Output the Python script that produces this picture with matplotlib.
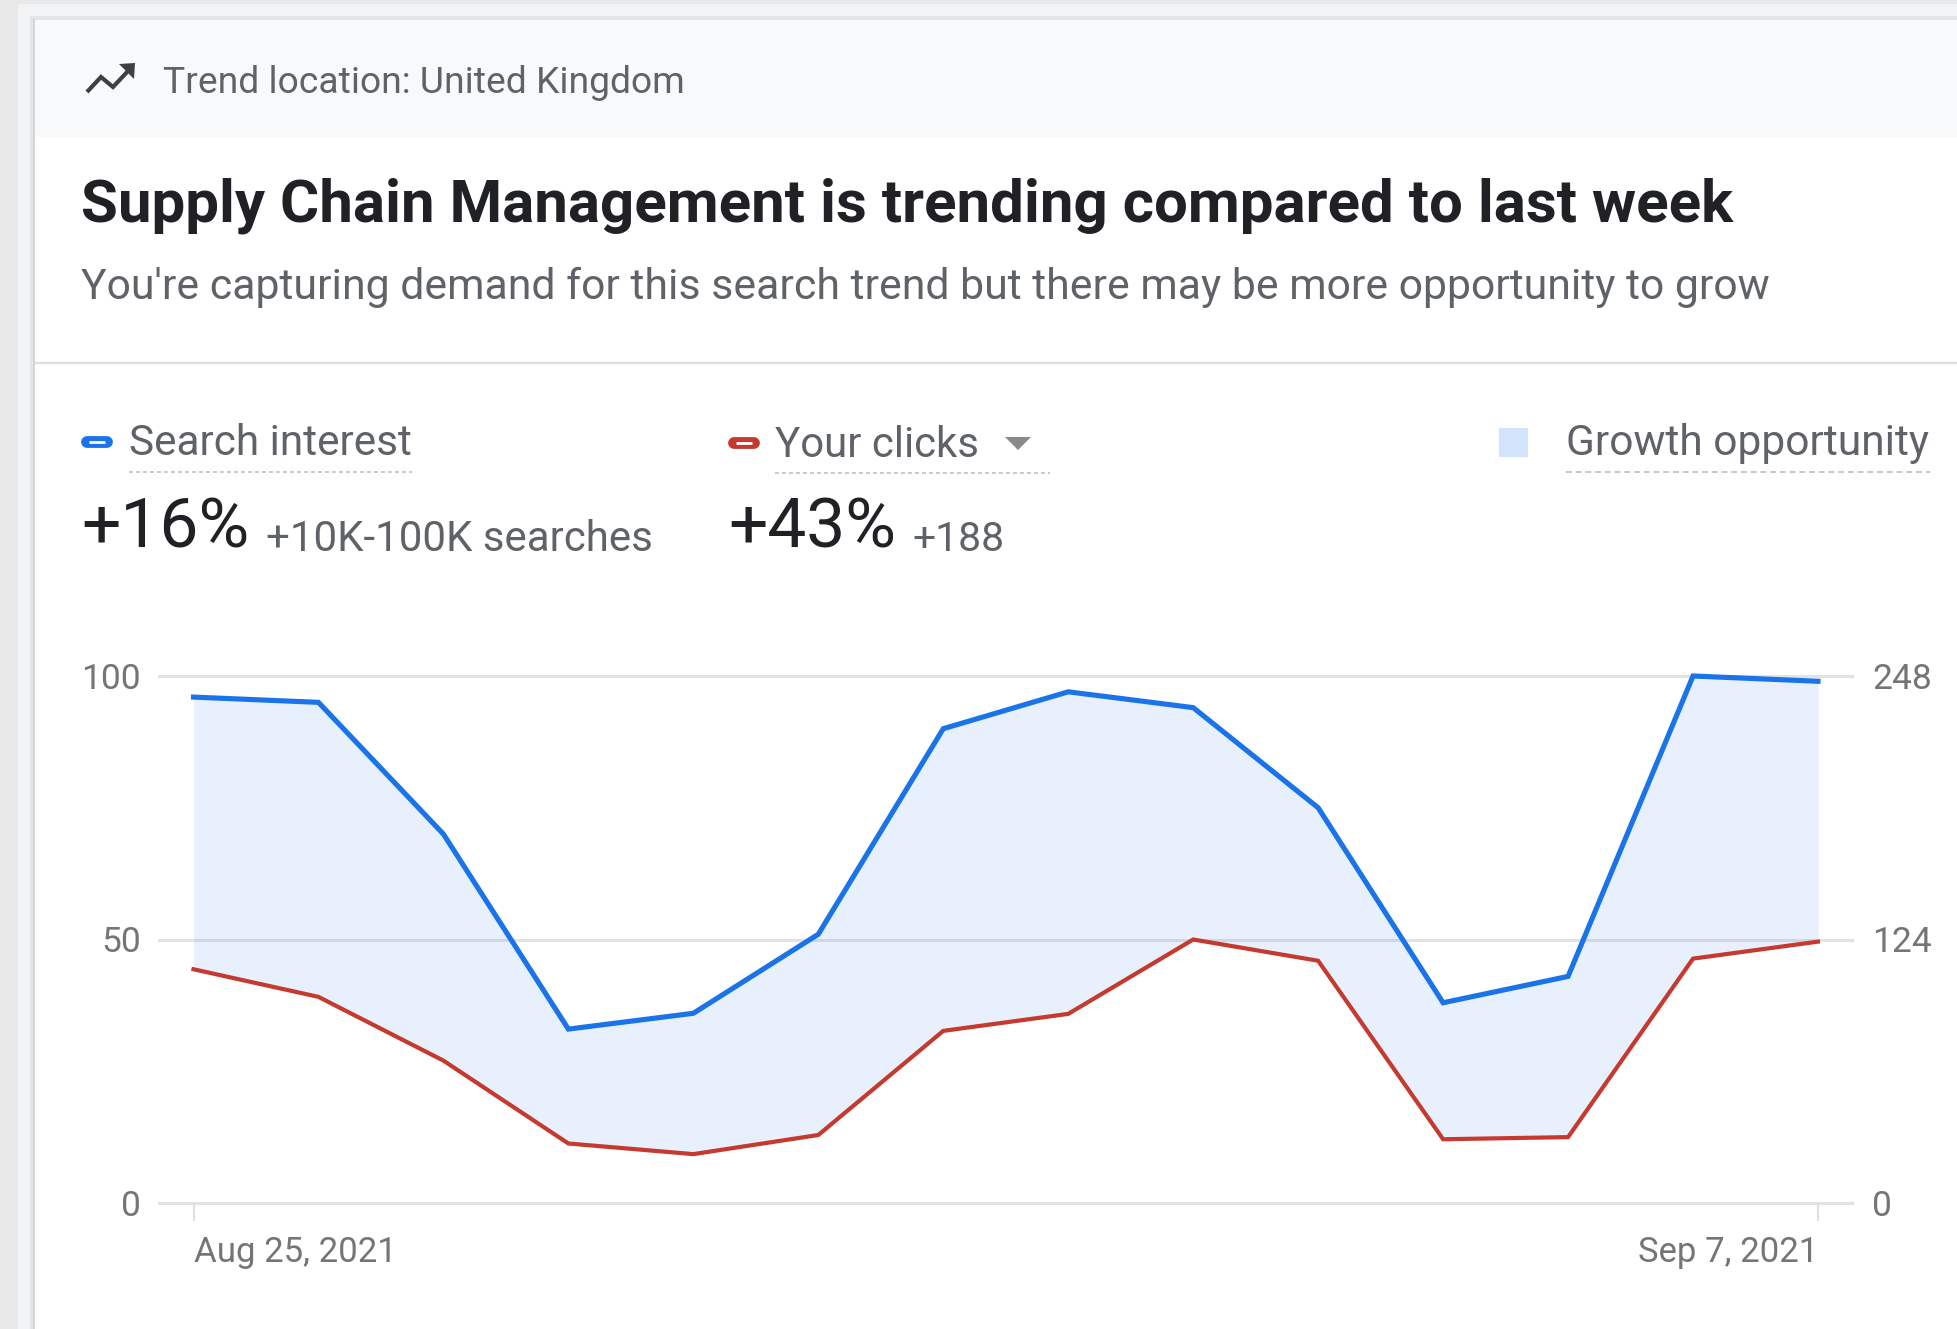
import matplotlib
matplotlib.use("Agg")
import matplotlib.pyplot as plt
from matplotlib.patches import Rectangle, Polygon
from matplotlib.lines import Line2D

# ---- data ----
dates = ["Aug 25, 2021", "Aug 26, 2021", "Aug 27, 2021", "Aug 28, 2021",
         "Aug 29, 2021", "Aug 30, 2021", "Aug 31, 2021", "Sep 1, 2021",
         "Sep 2, 2021", "Sep 3, 2021", "Sep 4, 2021", "Sep 5, 2021",
         "Sep 6, 2021", "Sep 7, 2021"]
search_interest = [96, 95, 70, 33, 36, 51, 90, 97, 94, 75, 38, 43, 100, 99]
your_clicks = [110, 97, 67, 28, 23, 32, 81, 89, 124, 114, 30, 31, 115, 123]
interest_ticks = [0, 50, 100]
clicks_ticks = [0, 124, 248]
interest_max = 100
clicks_max = 248

BLUE = "#1a73e8"
RED = "#c5392f"
DARK = "#202124"
GREY = "#5f6368"
AXIS_GREY = "#757575"

W, H, DPI = 1957, 1329, 100
plt.rcParams["font.family"] = ["Roboto", "DejaVu Sans"]

fig = plt.figure(figsize=(W / DPI, H / DPI), dpi=DPI)
fig.patch.set_facecolor("#e9e9e9")
renderer = fig.canvas.get_renderer()


def fx(x):
    return x / W


def fy(y):
    return 1 - y / H


def rect(x0, y0, x1, y1, color, z=-5):
    fig.patches.append(Rectangle((fx(x0), fy(y1)), (x1 - x0) / W, (y1 - y0) / H,
                                 transform=fig.transFigure, facecolor=color,
                                 edgecolor="none", zorder=z))


def hline(x0, x1, y, color, lw, **kw):
    fig.lines.append(Line2D([fx(x0), fx(x1)], [fy(y), fy(y)],
                            transform=fig.transFigure, color=color, lw=lw, **kw))


def fit_text(x, y, s, width, ha="left", va="baseline", **kw):
    """Place a text and scale its font size so it spans the given pixel width."""
    t = fig.text(fx(x), fy(y), s, ha=ha, va=va, fontsize=20, **kw)
    for _ in range(3):
        w = t.get_window_extent(renderer).width
        t.set_fontsize(t.get_fontsize() * width / w)
    return t


# ---- card background ----
rect(18, 4, W, H, "#f1f3f4", z=-7)
rect(30, 16, W, H, "#e4e5e7", z=-6)
rect(34, 20, W, H, "white", z=-5)
rect(34, 20, W, 137, "#f8f9fa", z=-4)
fig.lines.append(Line2D([fx(34), fx(34)], [fy(20), fy(H)], transform=fig.transFigure,
                        color="#d4d4d4", lw=1.4, zorder=-3))
hline(34, W, 363, "#dadce0", 1.6, zorder=-3)

# ---- header: trend icon + location ----
fig.lines.append(Line2D([fx(87), fx(101), fx(113), fx(129)],
                        [fy(92), fy(77), fy(87), fy(70)],
                        transform=fig.transFigure, color="#3c4043", lw=3.0,
                        solid_joinstyle="miter", solid_capstyle="butt"))
fig.patches.append(Polygon([(fx(119), fy(64)), (fx(135), fy(63)), (fx(134), fy(79))],
                           closed=True, transform=fig.transFigure,
                           facecolor="#3c4043", edgecolor="none"))
fit_text(163, 93, "Trend location: United Kingdom", 522, color=GREY)

# ---- title and subtitle ----
fit_text(81, 222, "Supply Chain Management is trending compared to last week", 1651,
         color=DARK, fontweight="bold")
fit_text(81, 299, "You're capturing demand for this search trend but there may be more "
         "opportunity to grow", 1684, color=GREY)

# ---- legend row ----
def pill(cx, cy, color):
    fig.lines.append(Line2D([fx(cx - 10), fx(cx + 10)], [fy(cy), fy(cy)],
                            transform=fig.transFigure, color=color, lw=8.5,
                            solid_capstyle="round"))
    fig.lines.append(Line2D([fx(cx - 8), fx(cx + 8)], [fy(cy), fy(cy)],
                            transform=fig.transFigure, color="white", lw=2.0,
                            solid_capstyle="butt"))


pill(97, 442, BLUE)
fit_text(129, 455, "Search interest", 283, color=GREY)
hline(129, 412, 472, "#c8c8c8", 1.4, ls=(0, (2, 1.6)))

pill(744, 443, RED)
fit_text(775, 457, "Your clicks", 204, color=GREY)
fig.patches.append(Polygon([(fx(1005), fy(437)), (fx(1031), fy(437)), (fx(1018), fy(450))],
                           closed=True, transform=fig.transFigure,
                           facecolor="#8a8a8a", edgecolor="none"))
hline(775, 1050, 473, "#c8c8c8", 1.4, ls=(0, (2, 1.6)))

rect(1499, 428, 1528, 457, "#d2e3fc", z=1)
fit_text(1566, 455, "Growth opportunity", 363, color=GREY)
hline(1566, 1930, 472, "#c8c8c8", 1.4, ls=(0, (3, 2)))

# ---- headline numbers ----
fit_text(81, 547, "+16%", 168, color=DARK)
fit_text(266, 551, "+10K-100K searches", 387, color=GREY)
fit_text(728, 547, "+43%", 168, color=DARK)
fit_text(912, 551, "+188", 92, color=GREY)

# ---- chart ----
ax_l, ax_r, ax_top, ax_bot = 158.5, 1852, 676, 1203
ax = fig.add_axes([fx(ax_l), fy(ax_bot), (ax_r - ax_l) / W, (ax_bot - ax_top) / H])
ax.set_facecolor("none")
x = list(range(len(dates)))
step = (1818 - 193.5) / (len(dates) - 1)
ax.set_xlim(-(193.5 - ax_l) / step, (len(dates) - 1) + (ax_r - 1818) / step)
ax.set_ylim(0, interest_max)

clicks_on_interest = [c * interest_max / clicks_max for c in your_clicks]
ax.fill_between(x, search_interest, clicks_on_interest, color=BLUE, alpha=0.1,
                lw=0, zorder=2)
ax.plot(x, search_interest, color=BLUE, lw=3.7, zorder=4, solid_joinstyle="miter",
        clip_on=False)

ax.set_axisbelow(True)
ax.set_yticks(interest_ticks)
ax.yaxis.grid(True, color="#e3e3e3", lw=2.2)
for gl in ax.get_ygridlines():
    gl.set_clip_on(False)
for s in ax.spines.values():
    s.set_visible(False)
ax.tick_params(axis="y", length=0, pad=12.5, labelsize=25.5, labelcolor=AXIS_GREY)

ax.set_xticks([0, len(dates) - 1])
ax.set_xticklabels([dates[0], dates[-1]])
ax.tick_params(axis="x", length=13, width=1.5, color="#e0e0e0", pad=11,
               labelsize=25, labelcolor=AXIS_GREY)
xl = ax.get_xticklabels()
xl[0].set_ha("left")
xl[1].set_ha("right")

ax2 = ax.twinx()
ax2.set_ylim(0, clicks_max)
ax2.plot(x, your_clicks, color=RED, lw=3.0, zorder=4, solid_joinstyle="miter",
         clip_on=False)
ax2.set_yticks(clicks_ticks)
for s in ax2.spines.values():
    s.set_visible(False)
ax2.tick_params(axis="y", length=0, pad=14.4, labelsize=25.5, labelcolor=AXIS_GREY)

fig.savefig("out.png", dpi=DPI, facecolor=fig.get_facecolor())
